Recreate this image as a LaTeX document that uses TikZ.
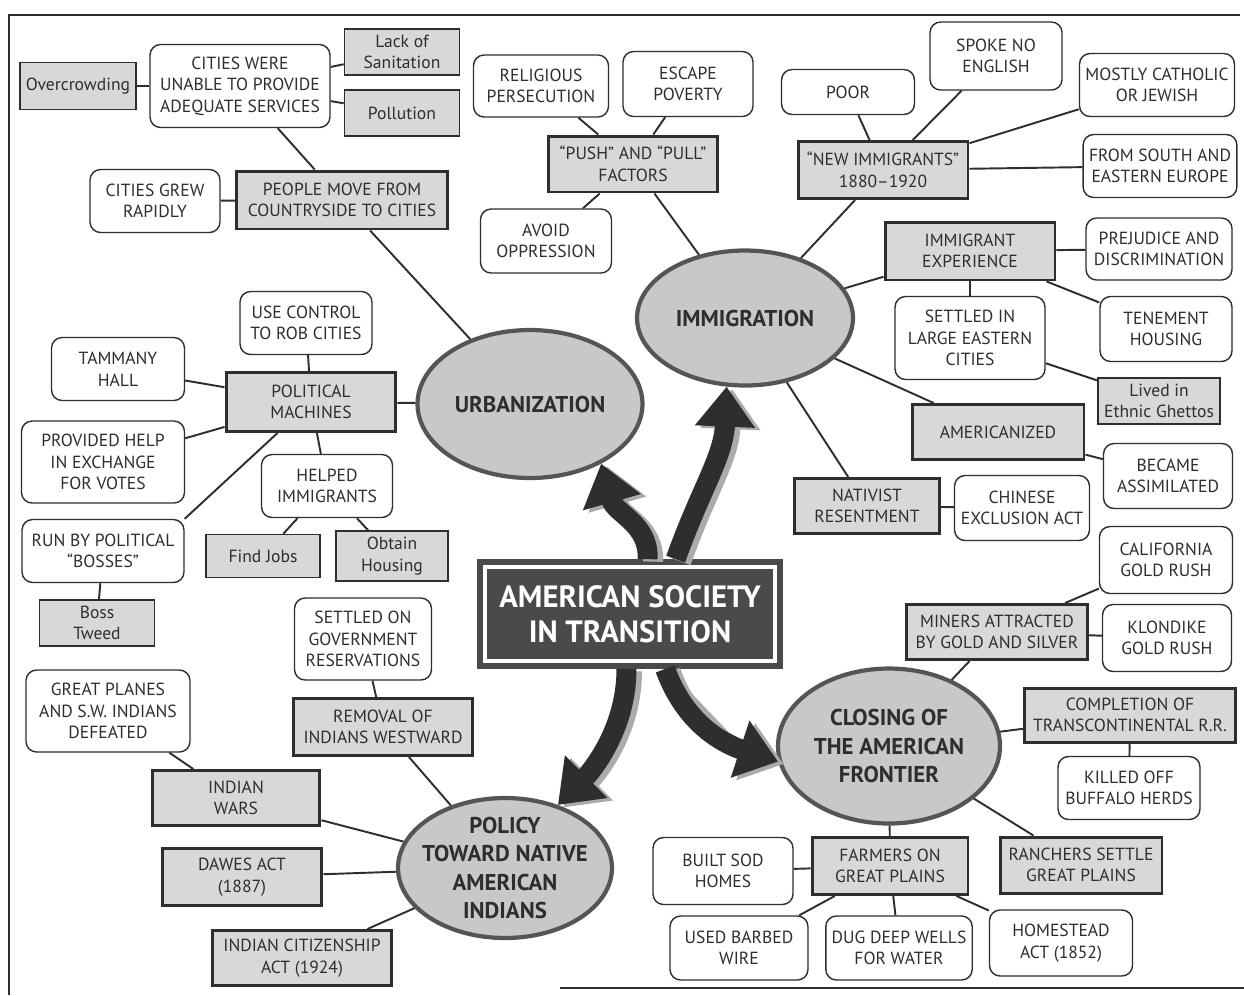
\documentclass[tikz,border=0pt]{standalone}
\usepackage{fontspec}
\setmainfont{PT Sans}
\usetikzlibrary{shapes.geometric,arrows.meta}
\definecolor{boxgrey}{HTML}{D8D8D8}
\definecolor{ellgrey}{HTML}{C8C8C8}
\definecolor{rimgrey}{HTML}{555555}
\definecolor{inkgrey}{HTML}{2E2E2E}
\definecolor{centregrey}{HTML}{4A4A4A}
\definecolor{shadegrey}{HTML}{ABABAB}

\tikzset{
  every node/.style={font=\fontsize{10}{12.3}\selectfont, align=center, text=inkgrey},
  plainbox/.style={draw=inkgrey, fill=white, rounded corners=6pt, line width=0.8pt},
  smallbox/.style={draw=inkgrey, fill=boxgrey, line width=0.9pt},
  keybox/.style={draw=inkgrey, fill=boxgrey, line width=1.7pt},
  topic/.style={ellipse, draw=rimgrey, fill=ellgrey, line width=2.4pt, inner sep=-0.3cm,
    font=\fontsize{13}{16}\selectfont\bfseries},
  centrebox/.style={draw=centregrey, fill=centregrey, line width=1pt, text=white,
    font=\fontsize{17.5}{20}\selectfont\bfseries},
  link/.style={draw=inkgrey, line width=1.1pt},
  bigarrow/.style={draw=inkgrey, line width=0.4cm, -{Triangle[width=1.15cm,length=0.8cm]}},
  bigshade/.style={bigarrow, draw=shadegrey, fill=shadegrey, transform canvas={shift={(0.11cm,-0.05cm)}}}
}

\begin{document}
\begin{tikzpicture}[x=0.02cm, y=-0.02cm]
\useasboundingbox (0,0) rectangle (1244,995);
\draw[inkgrey, line width=1.1pt] (1240,15) -- (9,15) -- (9,995);
\draw[inkgrey, line width=1.1pt] (560,988) -- (1244,988);

\node[plainbox, minimum width=3.6cm, minimum height=1.66cm] (cities) at (240,86) {CITIES WERE\\UNABLE TO PROVIDE\\ADEQUATE SERVICES};
\node[smallbox, minimum width=2.26cm, minimum height=0.94cm] (overcrowd) at (78,86) {Overcrowding};
\node[smallbox, minimum width=2.3cm, minimum height=0.86cm] (sanit) at (402,52) {Lack of\\Sanitation};
\node[smallbox, minimum width=2.3cm, minimum height=0.92cm] (pollut) at (402,113) {Pollution};
\node[plainbox, minimum width=2.6cm, minimum height=1.26cm] (grew) at (155,201) {CITIES GREW\\RAPIDLY};
\node[keybox, minimum width=4.22cm, minimum height=1.16cm] (people) at (342,200) {PEOPLE MOVE FROM\\COUNTRYSIDE TO CITIES};
\node[plainbox, minimum width=2.64cm, minimum height=1.26cm] (usecontrol) at (306,323) {USE CONTROL\\TO ROB CITIES};
\node[plainbox, minimum width=2.66cm, minimum height=1.26cm] (tammany) at (118,369) {TAMMANY\\HALL};
\node[keybox, minimum width=3.4cm, minimum height=1.18cm] (machines) at (311,402) {POLITICAL\\MACHINES};
\node[plainbox, minimum width=3.26cm, minimum height=1.64cm] (helpvotes) at (103,462) {PROVIDED HELP\\IN EXCHANGE\\FOR VOTES};
\node[plainbox, minimum width=2.62cm, minimum height=1.26cm] (helpedimm) at (327,486) {HELPED\\IMMIGRANTS};
\node[plainbox, minimum width=3.24cm, minimum height=1.26cm] (bosses) at (103,551) {RUN BY POLITICAL\\“BOSSES”};
\node[smallbox, minimum width=2.28cm, minimum height=0.86cm] (jobs) at (263,556) {Find Jobs};
\node[smallbox, minimum width=2.24cm, minimum height=0.86cm] (housing) at (392,556) {Obtain\\Housing};
\node[smallbox, minimum width=2.3cm, minimum height=0.92cm] (tweed) at (97,623) {Boss\\Tweed};
\node[topic, minimum width=4.5cm, minimum height=2.96cm] (urban) at (530,404) {URBANIZATION};

\node[plainbox, minimum width=2.7cm, minimum height=1.24cm] (religious) at (541,86) {RELIGIOUS\\PERSECUTION};
\node[plainbox, minimum width=2.6cm, minimum height=1.3cm] (poverty) at (688,84) {ESCAPE\\POVERTY};
\node[keybox, minimum width=3.4cm, minimum height=1.12cm] (pushpull) at (633,164) {“PUSH” AND “PULL”\\FACTORS};
\node[plainbox, minimum width=2.62cm, minimum height=1.28cm] (oppression) at (546,241) {AVOID\\OPPRESSION};
\node[topic, minimum width=4.32cm, minimum height=2.7cm] (immig) at (745,318) {IMMIGRATION};

\node[plainbox, minimum width=2.66cm, minimum height=0.9cm] (poor) at (848,92) {POOR};
\node[plainbox, minimum width=2.64cm, minimum height=1.36cm] (spoke) at (996,56) {SPOKE NO\\ENGLISH};
\node[plainbox, minimum width=3.1cm, minimum height=1.26cm] (catholic) at (1157,85) {MOSTLY CATHOLIC\\OR JEWISH};
\node[keybox, minimum width=3.4cm, minimum height=1.14cm] (newimm) at (883,170) {“NEW IMMIGRANTS”\\1880–1920};
\node[plainbox, minimum width=3.02cm, minimum height=1.26cm] (southeast) at (1160,166) {FROM SOUTH AND\\EASTERN EUROPE};
\node[keybox, minimum width=3.4cm, minimum height=1.16cm] (experience) at (970,251) {IMMIGRANT\\EXPERIENCE};
\node[plainbox, minimum width=2.92cm, minimum height=1.24cm] (prejudice) at (1159,249) {PREJUDICE AND\\DISCRIMINATION};
\node[plainbox, minimum width=3.0cm, minimum height=1.66cm] (settledcities) at (970,338) {SETTLED IN\\LARGE EASTERN\\CITIES};
\node[plainbox, minimum width=2.64cm, minimum height=1.3cm] (tenement) at (1166,329) {TENEMENT\\HOUSING};
\node[smallbox, minimum width=2.28cm, minimum height=0.92cm] (ghettos) at (1159,401) {Lived in\\Ethnic Ghettos};
\node[keybox, minimum width=3.44cm, minimum height=1.1cm] (americanized) at (998,432) {AMERICANIZED};
\node[plainbox, minimum width=2.58cm, minimum height=1.3cm] (assimilated) at (1168,476) {BECAME\\ASSIMILATED};
\node[keybox, minimum width=2.9cm, minimum height=1.1cm] (nativist) at (867,506) {NATIVIST\\RESENTMENT};
\node[plainbox, minimum width=2.7cm, minimum height=1.3cm] (chinese) at (1022,508) {CHINESE\\EXCLUSION ACT};

\node[plainbox, minimum width=2.66cm, minimum height=1.34cm] (california) at (1166,560) {CALIFORNIA\\GOLD RUSH};
\node[keybox, minimum width=3.62cm, minimum height=1.1cm] (miners) at (997,632) {MINERS ATTRACTED\\BY GOLD AND SILVER};
\node[plainbox, minimum width=2.58cm, minimum height=1.34cm] (klondike) at (1167,638) {KLONDIKE\\GOLD RUSH};
\node[topic, minimum width=4.44cm, minimum height=3.1cm] (closing) at (889,746) {CLOSING OF\\THE AMERICAN\\FRONTIER};
\node[keybox, minimum width=4.22cm, minimum height=1.08cm] (railroad) at (1130,715) {COMPLETION OF\\TRANSCONTINENTAL R.R.};
\node[plainbox, minimum width=2.84cm, minimum height=1.26cm] (buffalo) at (1129,788) {KILLED OFF\\BUFFALO HERDS};
\node[keybox, minimum width=3.24cm, minimum height=1.12cm] (ranchers) at (1081,865) {RANCHERS SETTLE\\GREAT PLAINS};
\node[keybox, minimum width=3.12cm, minimum height=1.14cm] (farmers) at (890,866) {FARMERS ON\\GREAT PLAINS};
\node[plainbox, minimum width=2.8cm, minimum height=1.34cm] (sod) at (723,871) {BUILT SOD\\HOMES};
\node[plainbox, minimum width=2.76cm, minimum height=1.28cm] (barbed) at (739,948) {USED BARBED\\WIRE};
\node[plainbox, minimum width=2.84cm, minimum height=1.28cm] (wells) at (899,948) {DUG DEEP WELLS\\FOR WATER};
\node[plainbox, minimum width=2.86cm, minimum height=1.32cm] (homestead) at (1061,943) {HOMESTEAD\\ACT (1852)};

\node[plainbox, minimum width=2.74cm, minimum height=1.64cm] (reservations) at (363,639) {SETTLED ON\\GOVERNMENT\\RESERVATIONS};
\node[plainbox, minimum width=3.28cm, minimum height=1.64cm] (defeated) at (108,711) {GREAT PLANES\\AND S.W. INDIANS\\DEFEATED};
\node[keybox, minimum width=3.58cm, minimum height=1.14cm] (removal) at (383,727) {REMOVAL OF\\INDIANS WESTWARD};
\node[keybox, minimum width=3.36cm, minimum height=1.1cm] (wars) at (236,798) {INDIAN\\WARS};
\node[topic, minimum width=4.28cm, minimum height=2.8cm] (policy) at (505,868) {POLICY\\TOWARD NATIVE\\AMERICAN\\INDIANS};
\node[keybox, minimum width=3.2cm, minimum height=1.14cm] (dawes) at (242,877) {DAWES ACT\\(1887)};
\node[keybox, minimum width=3.6cm, minimum height=1.1cm] (citizenship) at (302,958) {INDIAN CITIZENSHIP\\ACT (1924)};

\node[centrebox, minimum width=6.1cm, minimum height=2.16cm] (society) at (630,614) {AMERICAN SOCIETY\\IN TRANSITION};
\draw[white, line width=2.2pt] ([shift={(8,8)}]society.north west) rectangle ([shift={(-8,-8)}]society.south east);

\draw[link] (overcrowd) -- (cities);
\draw[link] (cities) -- (sanit);
\draw[link] (cities) -- (pollut);
\draw[link] (cities) -- (people);
\draw[link] (grew) -- (people);
\draw[link] (people) -- (urban);
\draw[link] (usecontrol) -- (machines);
\draw[link] (tammany) -- (machines);
\draw[link] (helpvotes) -- (machines);
\draw[link] (bosses.north east) -- (machines);
\draw[link] (helpedimm) -- (machines);
\draw[link] (helpedimm) -- (jobs);
\draw[link] (helpedimm) -- (housing);
\draw[link] (bosses) -- (tweed);
\draw[link] (machines) -- (urban);

\draw[link] (religious) -- (pushpull);
\draw[link] (poverty) -- (pushpull);
\draw[link] (oppression) -- (pushpull);
\draw[link] (pushpull) -- (immig);
\draw[link] (poor) -- (newimm);
\draw[link] (spoke) -- (newimm);
\draw[link] (catholic) -- (newimm);
\draw[link] (southeast) -- (newimm);
\draw[link] (newimm) -- (immig);
\draw[link] (immig) -- (experience);
\draw[link] (experience) -- (prejudice);
\draw[link] (experience) -- (tenement);
\draw[link] (experience) -- (settledcities);
\draw[link] (settledcities) -- (ghettos);
\draw[link] (immig) -- (americanized);
\draw[link] (americanized) -- (assimilated);
\draw[link] (immig) -- (nativist);
\draw[link] (nativist) -- (chinese);

\draw[link] (california) -- (miners);
\draw[link] (miners) -- (klondike);
\draw[link] (miners) -- (closing);
\draw[link] (closing) -- (railroad);
\draw[link] (railroad) -- (buffalo);
\draw[link] (closing) -- (ranchers);
\draw[link] (closing) -- (farmers);
\draw[link] (farmers) -- (sod);
\draw[link] (farmers) -- (barbed);
\draw[link] (farmers) -- (wells);
\draw[link] (farmers) -- (homestead);

\draw[link] (reservations) -- (removal);
\draw[link] (removal) -- (policy);
\draw[link] (defeated) -- (wars);
\draw[link] (wars) -- (policy);
\draw[link] (dawes) -- (policy);
\draw[link] (citizenship) -- (policy);

\draw[bigshade] ([xshift=10]society.north) .. controls +(2,-35) and +(14,50) .. (urban.-40);
\draw[bigarrow] ([xshift=10]society.north) .. controls +(2,-35) and +(14,50) .. (urban.-40);
\draw[bigshade] ([xshift=26]society.north) .. controls +(25,-70) and +(-3,70) .. (immig.255);
\draw[bigarrow] ([xshift=26]society.north) .. controls +(25,-70) and +(-3,70) .. (immig.255);
\draw[bigshade] ([xshift=-2]society.south) .. controls +(0,65) and +(28,-28) .. (policy.50);
\draw[bigarrow] ([xshift=-2]society.south) .. controls +(0,65) and +(28,-28) .. (policy.50);
\draw[bigshade] ([xshift=20]society.south) .. controls +(20,55) and +(-55,-18) .. (closing.188);
\draw[bigarrow] ([xshift=20]society.south) .. controls +(20,55) and +(-55,-18) .. (closing.188);
\end{tikzpicture}
\end{document}
